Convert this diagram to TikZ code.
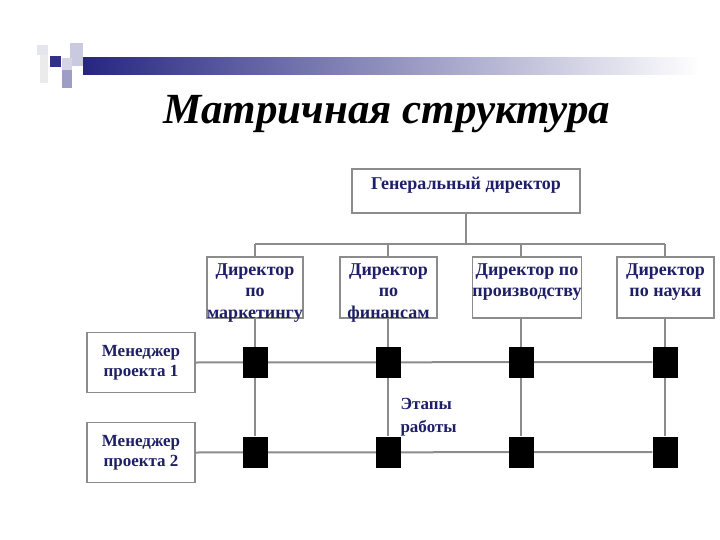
\documentclass[tikz,border=0pt]{standalone}
\usepackage{fontspec}
\setmainfont{Liberation Serif}
\usetikzlibrary{positioning, backgrounds, calc}
\definecolor{boxgrey}{HTML}{8c8c8c}
\definecolor{textnavy}{HTML}{1f1f66}
\definecolor{barnavy}{HTML}{262680}
\tikzset{
  gdbox/.style={rectangle, draw=boxgrey, fill=white, line width=1.8pt,
                minimum width=228pt, minimum height=44pt, text depth=16pt,
                align=center, text=textnavy, font=\fontsize{18}{21.5}\selectfont\bfseries},
  dirbox/.style={rectangle, draw=boxgrey, fill=white, line width=1.8pt,
                 minimum height=61pt, inner xsep=0pt, inner ysep=0pt,
                 text height=61pt, text depth=0pt,
                 align=center, text=textnavy, font=\fontsize{18}{21.5}\selectfont\bfseries},
  mgrbox/.style={rectangle, draw=boxgrey, fill=white, line width=1.8pt,
                 minimum width=108pt, minimum height=60pt,
                 align=center, text=textnavy, font=\fontsize{17}{20}\selectfont\bfseries},
  cellsq/.style={rectangle, fill=black, minimum width=25pt, minimum height=31pt, inner sep=0pt},
  gridline/.style={draw=boxgrey, line width=2pt},
  steplabel/.style={anchor=west, align=left, text=textnavy,
                    font=\fontsize{17}{23}\selectfont\bfseries},
}

\begin{document}
\begin{tikzpicture}[x=1pt, y=-1pt]
  \useasboundingbox (0,0) rectangle (720,540);

  % --- Slide header decoration ---
  \shade[left color=barnavy, right color=white] (83,58) rectangle (700,75);
  \fill[barnavy!12] (37,45) rectangle (48,55);
  \fill[black!8] (40,55) rectangle (48,83);
  \fill[barnavy!25] (70,43) rectangle (83,66);
  \fill[barnavy!20] (62,58) rectangle (72,70);
  \fill[barnavy!45] (62,70) rectangle (72,88);
  \fill[barnavy!95] (50,56) rectangle (61,67);

  \node[font=\fontsize{43}{47}\selectfont\bfseries\itshape, anchor=base]
    (title) at (387,124) {Матричная структура};

  % --- Top management ---
  \node[gdbox] (gd) at (466,191) {Генеральный директор};

  % --- Functional directors ---
  \node[dirbox, minimum width=96pt]  (dmark) at (255,287.5)   {Директор\\по\\маркетингу};
  \node[dirbox, minimum width=97pt]  (dfin)  at (388.5,287.5) {Директор\\по\\финансам};
  \node[dirbox, minimum width=108pt] (dprod) at (527,287.5)   {Директор по\\производству\\\mbox{}};
  \node[dirbox, minimum width=97pt]  (dsci)  at (665.5,287.5) {Директор\\по науки\\\mbox{}};

  % --- Project managers ---
  \node[mgrbox] (pm1) at (141,362.5) {Менеджер\\проекта 1};
  \node[mgrbox] (pm2) at (141,452.5) {Менеджер\\проекта 2};

  % --- Matrix cells ---
  \foreach \x/\c in {255/1, 388/2, 521/3, 665/4} {
    \node[cellsq] (c\c1) at (\x,362) {};
    \node[cellsq] (c\c2) at (\x,452) {};
  }
  \node[steplabel] (stages) at (397,417) {Этапы\\работы};

  % --- Links (behind the cells) ---
  \begin{scope}[on background layer]
    \draw[gridline] (gd.south) -- ($(gd.south)+(0,30)$) coordinate (bus);
    \draw[gridline] (c11 |- bus) -- (c41 |- bus);
    \foreach \c/\d in {1/dmark, 2/dfin, 3/dprod, 4/dsci} {
      \draw[gridline] (c\c1 |- bus) -- (c\c1 |- \d.north);
      \draw[gridline] (c\c1 |- \d.south) -- (c\c2);
    }
    \draw[gridline] (pm1.east) -- (c41);
    \draw[gridline] (pm2.east) -- (c42);
  \end{scope}

\end{tikzpicture}
\end{document}
